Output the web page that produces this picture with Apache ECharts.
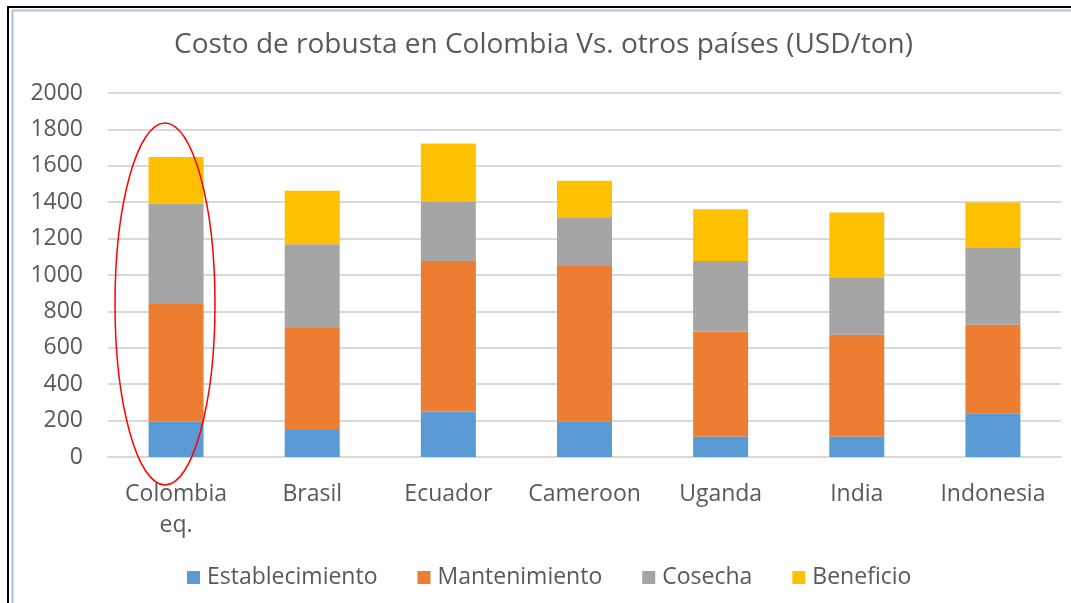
<!DOCTYPE html>
<html>
<head>
<meta charset="utf-8">
<script src="https://cdn.jsdelivr.net/npm/echarts@6/dist/echarts.min.js"></script>
<style>
  html, body { margin: 0; padding: 0; background: #fff; }
  #main { width: 1071px; height: 603px; }
</style>
</head>
<body>
<div id="main"></div>
<script>
const paises = ['Colombia\neq.', 'Brasil', 'Ecuador', 'Cameroon', 'Uganda', 'India', 'Indonesia']
const establecimiento = [195, 148, 249, 194, 112, 112, 240]
const mantenimiento = [645, 561, 828, 855, 578, 560, 487]
const cosecha = [553, 460, 324, 268, 387, 315, 425]
const beneficio = [256, 294, 321, 201, 284, 357, 247]
const yTicks = { min: 0, max: 2000, interval: 200 }

const fuente = 'Open Sans'
const gris = '#595959'

const chart = echarts.init(document.getElementById('main'))

const serie = (name, data, color) => ({
  name: name,
  type: 'bar',
  stack: 'total',
  data: data,
  barWidth: 55,
  itemStyle: { color: color },
})

chart.setOption({
  animation: false,
  title: {
    text: 'Costo de robusta en Colombia Vs. otros países (USD/ton)',
    left: 174,
    top: 31,
    padding: 0,
    textStyle: { fontFamily: fuente, fontSize: 28, fontWeight: 'normal', color: gris },
  },
  legend: {
    bottom: 9,
    left: 182,
    itemWidth: 13,
    itemHeight: 13,
    itemGap: 40,
    icon: 'rect',
    textStyle: { fontFamily: fuente, fontSize: 23, color: gris, padding: [0, 0, 0, 2] },
  },
  grid: { left: 108, right: 10, top: 93, bottom: 146 },
  xAxis: {
    type: 'category',
    data: paises,
    axisLine: { lineStyle: { color: '#d9d9d9', width: 2 } },
    axisTick: { show: false },
    axisLabel: { interval: 0, fontFamily: fuente, fontSize: 23, color: gris, margin: 22, lineHeight: 31 },
  },
  yAxis: {
    type: 'value',
    min: yTicks.min,
    max: yTicks.max,
    interval: yTicks.interval,
    axisLabel: {
      fontFamily: fuente, fontSize: 23, color: gris, margin: 25,
      formatter: (v) => String(v),
    },
    splitLine: { lineStyle: { color: '#d9d9d9', width: 2 } },
  },
  series: [
    serie('Establecimiento', establecimiento, '#5B9BD5'),
    serie('Mantenimiento', mantenimiento, '#ED7D31'),
    serie('Cosecha', cosecha, '#A5A5A5'),
    serie('Beneficio', beneficio, '#FFC000'),
  ],
  graphic: [
    // marco del documento
    { type: 'line', shape: { x1: 8, y1: 7, x2: 1071, y2: 7 }, style: { stroke: '#000', lineWidth: 2 } },
    { type: 'line', shape: { x1: 8, y1: 6, x2: 8, y2: 603 }, style: { stroke: '#000', lineWidth: 2 } },
    { type: 'line', shape: { x1: 12, y1: 10.5, x2: 1071, y2: 10.5 }, style: { stroke: '#a9c2d8', lineWidth: 2 } },
    { type: 'line', shape: { x1: 12.5, y1: 10, x2: 12.5, y2: 603 }, style: { stroke: '#a9c2d8', lineWidth: 2 } },
    // óvalo rojo
    {
      type: 'ellipse',
      shape: { cx: 165, cy: 304, rx: 50, ry: 181 },
      style: { fill: null, stroke: '#ff0000', lineWidth: 1.5 },
      z: 100,
    },
  ],
})
</script>
</body>
</html>
